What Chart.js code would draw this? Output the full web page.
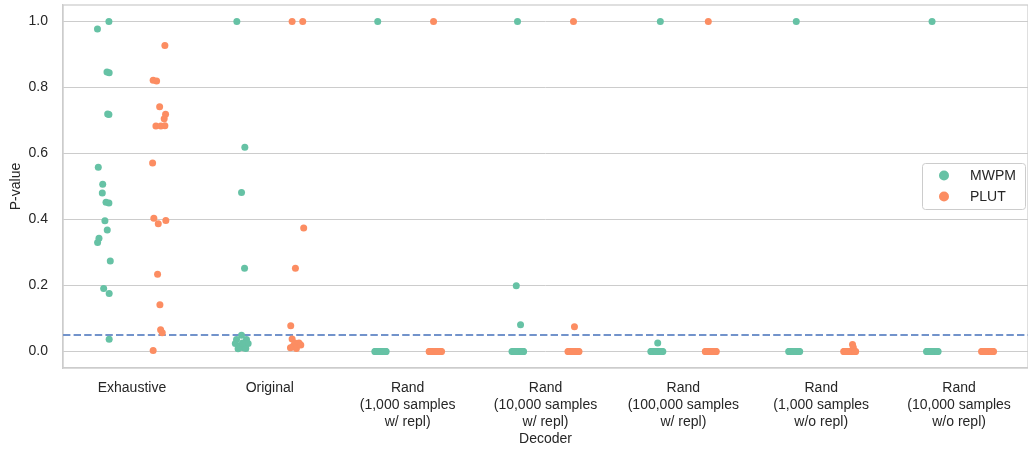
<!DOCTYPE html>
<html>
<head>
<meta charset="utf-8">
<script src="https://cdn.jsdelivr.net/npm/chart.js@4.4.1/dist/chart.umd.min.js"></script>
<style>
  html, body { margin: 0; padding: 0; background: #ffffff; }
  #wrap { width: 1028px; height: 451px; position: relative; }
</style>
</head>
<body>
<div id="wrap"><canvas id="c" width="1028" height="451"></canvas></div>
<script>
// Decoder categories (multi-line tick labels)
const decoders = [
  ['Exhaustive'],
  ['Original'],
  ['Rand', '(1,000 samples', 'w/ repl)'],
  ['Rand', '(10,000 samples', 'w/ repl)'],
  ['Rand', '(100,000 samples', 'w/ repl)'],
  ['Rand', '(1,000 samples', 'w/o repl)'],
  ['Rand', '(10,000 samples', 'w/o repl)']
];

const yTickValues = [0.0, 0.2, 0.4, 0.6, 0.8, 1.0];
const threshold = 0.05;

// P-values per decoder, MWPM
const mwpmValues = [
  [1.000, 0.977, 0.847, 0.845, 0.720, 0.718, 0.558, 0.507, 0.480, 0.452, 0.450, 0.396, 0.368, 0.343, 0.330, 0.274, 0.191, 0.176, 0.037],
  [1.000, 0.619, 0.482, 0.252, 0.049, 0.036, 0.036, 0.024, 0.024, 0.016, 0.011, 0.008, 0.009, 0.026],
  [1.000, 0, 0, 0, 0, 0, 0, 0, 0, 0, 0, 0, 0, 0, 0, 0, 0, 0],
  [1.000, 0.199, 0.081, 0, 0, 0, 0, 0, 0, 0, 0, 0, 0, 0, 0, 0, 0, 0, 0],
  [1.000, 0.026, 0, 0, 0, 0, 0, 0, 0, 0, 0, 0, 0, 0, 0, 0, 0, 0, 0],
  [1.000, 0, 0, 0, 0, 0, 0, 0, 0, 0, 0, 0, 0, 0, 0, 0, 0, 0],
  [1.000, 0, 0, 0, 0, 0, 0, 0, 0, 0, 0, 0, 0, 0, 0, 0, 0, 0]
];
// Strip jitter per point (category units), MWPM
const mwpmJitter = [
  [0.033, -0.050, 0.019, 0.035, 0.024, 0.033, -0.044, -0.012, -0.015, 0.012, 0.033, 0.004, 0.021, -0.039, -0.049, 0.043, -0.005, 0.035, 0.035],
  [-0.039, 0.019, -0.005, 0.017, -0.005, -0.041, 0.031, -0.050, 0.043, -0.017, 0.007, -0.030, 0.026, 0.002],
  [-0.017, -0.038, -0.029, -0.021, -0.033, -0.009, 0.003, -0.014, 0.012, 0.024, 0.031, 0.008, 0.019, 0.040, 0.044, -0.002, 0.027, 0.036],
  [-0.003, -0.012, 0.019, -0.043, -0.035, -0.024, -0.030, -0.011, 0.001, -0.016, 0.009, 0.026, 0.034, 0.041, 0.016, -0.005, 0.030, 0.038, -0.020],
  [0.033, 0.014, -0.036, -0.027, -0.018, -0.031, -0.004, 0.006, -0.011, 0.020, 0.028, 0.037, 0.045, 0.051, 0.012, -0.022, 0.024, 0.040, 0.001],
  [0.019, -0.036, -0.027, -0.018, -0.031, -0.007, 0.004, -0.012, 0.013, 0.021, 0.030, 0.038, 0.044, 0.009, -0.022, 0.026, 0.035, -0.002],
  [0.004, -0.036, -0.028, -0.019, -0.032, -0.008, 0.003, -0.013, 0.012, 0.021, 0.029, 0.038, 0.048, 0.008, -0.023, 0.025, 0.042, -0.002]
];

// P-values per decoder, PLUT
const plutValues = [
  [0.927, 0.822, 0.820, 0.742, 0.719, 0.705, 0.683, 0.683, 0.684, 0.571, 0.404, 0.397, 0.387, 0.234, 0.142, 0.066, 0.057, 0.003],
  [1.000, 1.000, 0.374, 0.252, 0.078, 0.038, 0.026, 0.026, 0.016, 0.011, 0.009, 0.020],
  [1.000, 0, 0, 0, 0, 0, 0, 0, 0, 0, 0, 0, 0, 0, 0, 0, 0, 0],
  [1.000, 0.075, 0, 0, 0, 0, 0, 0, 0, 0, 0, 0, 0, 0, 0, 0, 0, 0, 0],
  [1.000, 0, 0, 0, 0, 0, 0, 0, 0, 0, 0, 0, 0, 0, 0, 0, 0, 0],
  [0.021, 0.012, 0, 0, 0, 0, 0, 0, 0, 0, 0, 0, 0, 0, 0, 0, 0, 0, 0],
  [0, 0, 0, 0, 0, 0, 0, 0, 0, 0, 0, 0, 0, 0, 0, 0, 0, 0]
];
// Strip jitter per point (category units), PLUT
const plutJitter = [
  [0.039, -0.046, -0.021, 0.001, 0.044, 0.034, -0.026, 0.010, 0.039, -0.050, -0.041, 0.046, -0.009, -0.014, 0.003, 0.008, 0.020, -0.046],
  [-0.038, 0.039, 0.046, -0.014, -0.048, -0.038, -0.019, 0.012, -0.031, -0.050, -0.007, 0.025],
  [-0.012, -0.044, -0.031, -0.025, -0.036, -0.006, 0.005, -0.017, 0.014, 0.022, 0.033, 0.010, 0.041, 0.046, -0.001, 0.028, 0.018, -0.040],
  [0.003, 0.010, -0.037, -0.028, -0.019, -0.031, -0.008, 0.002, -0.013, 0.015, 0.024, 0.037, 0.043, 0.006, 0.029, -0.023, 0.019, 0.033, -0.002],
  [-0.019, -0.041, -0.033, -0.024, -0.028, -0.009, 0.002, -0.015, 0.011, 0.020, 0.030, 0.039, 0.007, 0.034, -0.004, 0.025, -0.037, 0.016],
  [0.027, 0.033, -0.037, -0.029, -0.020, -0.032, -0.009, 0.003, -0.014, 0.012, 0.022, 0.030, 0.041, 0.050, 0.007, -0.024, 0.018, 0.045, -0.003],
  [-0.037, -0.028, -0.019, -0.031, -0.008, 0.004, -0.013, 0.013, 0.022, 0.031, 0.040, 0.050, 0.008, -0.023, 0.026, 0.045, -0.002, 0.035]
];

const FONT = "'Liberation Sans', Arial, sans-serif";
const TEXT = '#262626';
const GRID = '#cccccc';
const DODGE = 0.2;   // hue offset within each category

function stripPoints(values, jitter, offset) {
  const pts = [];
  values.forEach((col, i) => {
    col.forEach((v, j) => pts.push({ x: i + offset + jitter[i][j], y: v }));
  });
  return pts;
}

// No extra edge padding for tick labels; the plotting area fills the canvas
function noEdgePadding(scale) {
  scale.paddingTop = 0;
  scale.paddingBottom = 0;
  scale.paddingLeft = 0;
  scale.paddingRight = 0;
}

// Frame around the plotting area (all four spines)
const framePlugin = {
  id: 'frame',
  beforeDatasetsDraw(chart) {
    const { ctx, chartArea: a } = chart;
    ctx.save();
    ctx.strokeStyle = GRID;
    ctx.lineWidth = 1.25;
    ctx.strokeRect(a.left, a.top, a.right - a.left, a.bottom - a.top);
    ctx.restore();
  }
};

// Legend box drawn inside the plotting area
const innerLegend = {
  id: 'innerLegend',
  afterDatasetsDraw(chart) {
    const { ctx } = chart;
    const items = chart.data.datasets.filter(d => d.inLegend);
    const x0 = 922, y0 = 163, w = 103, h = 46;
    ctx.save();
    ctx.fillStyle = 'rgba(255,255,255,0.8)';
    ctx.strokeStyle = GRID;
    ctx.lineWidth = 1;
    ctx.beginPath();
    ctx.roundRect(x0 + 0.5, y0 + 0.5, w, h, 3);
    ctx.fill();
    ctx.stroke();
    ctx.font = '14px ' + FONT;
    ctx.textBaseline = 'middle';
    ctx.textAlign = 'left';
    items.forEach((d, i) => {
      const cy = y0 + 12.5 + i * 21;
      ctx.fillStyle = d.backgroundColor;
      ctx.beginPath();
      ctx.arc(x0 + 22, cy, 5, 0, Math.PI * 2);
      ctx.fill();
      ctx.fillStyle = TEXT;
      ctx.fillText(d.label, x0 + 48, cy + 1);
    });
    ctx.restore();
  }
};

new Chart(document.getElementById('c'), {
  type: 'scatter',
  data: {
    datasets: [
      {
        label: 'MWPM',
        inLegend: true,
        data: stripPoints(mwpmValues, mwpmJitter, -DODGE),
        backgroundColor: '#66c2a5',
        borderWidth: 0,
        pointRadius: 3.5,
        pointHoverRadius: 3.5,
        order: 1
      },
      {
        label: 'PLUT',
        inLegend: true,
        data: stripPoints(plutValues, plutJitter, DODGE),
        backgroundColor: '#fc8d62',
        borderWidth: 0,
        pointRadius: 3.5,
        pointHoverRadius: 3.5,
        order: 0
      },
      {
        type: 'line',
        label: 'threshold',
        data: [{ x: -0.5, y: threshold }, { x: 6.5, y: threshold }],
        borderColor: '#7293cb',
        borderWidth: 2,
        borderDash: [7.4, 3.2],
        pointRadius: 0,
        pointHoverRadius: 0,
        fill: false,
        order: 3
      }
    ]
  },
  options: {
    responsive: false,
    devicePixelRatio: 1,
    animation: false,
    events: [],
    layout: { autoPadding: false, padding: { top: 5, right: 0, left: 0, bottom: 0 } },
    plugins: {
      legend: { display: false },
      tooltip: { enabled: false }
    },
    scales: {
      x: {
        type: 'linear',
        min: -0.5,
        max: 6.5,
        afterBuildTicks: (scale) => { scale.ticks = decoders.map((_, i) => ({ value: i })); },
        afterFit: (scale) => { scale.height = 83; noEdgePadding(scale); },
        ticks: {
          autoSkip: false,
          maxRotation: 0,
          padding: 12,
          color: TEXT,
          font: { family: FONT, size: 14, lineHeight: 1.2 },
          callback: (v) => decoders[v]
        },
        grid: { display: false, drawTicks: false },
        border: { display: true, color: GRID, width: 1.25 },
        title: {
          display: true,
          text: 'Decoder',
          color: TEXT,
          font: { family: FONT, size: 14, lineHeight: 1.2 },
          padding: { top: 0, bottom: 3 }
        }
      },
      y: {
        min: -0.05,
        max: 1.05,
        afterBuildTicks: (scale) => { scale.ticks = yTickValues.map(v => ({ value: v })); },
        afterFit: (scale) => { scale.width = 63; noEdgePadding(scale); },
        ticks: {
          padding: 15,
          color: TEXT,
          font: { family: FONT, size: 14 },
          callback: (v) => Number(v).toFixed(1)
        },
        grid: { color: GRID, lineWidth: 1, drawTicks: false },
        border: { display: true, color: GRID, width: 1.25 },
        title: {
          display: true,
          text: 'P-value',
          color: TEXT,
          font: { family: FONT, size: 14, lineHeight: 1.2 },
          padding: { top: 8, bottom: 0 }
        }
      }
    }
  },
  plugins: [framePlugin, innerLegend]
});
</script>
</body>
</html>
